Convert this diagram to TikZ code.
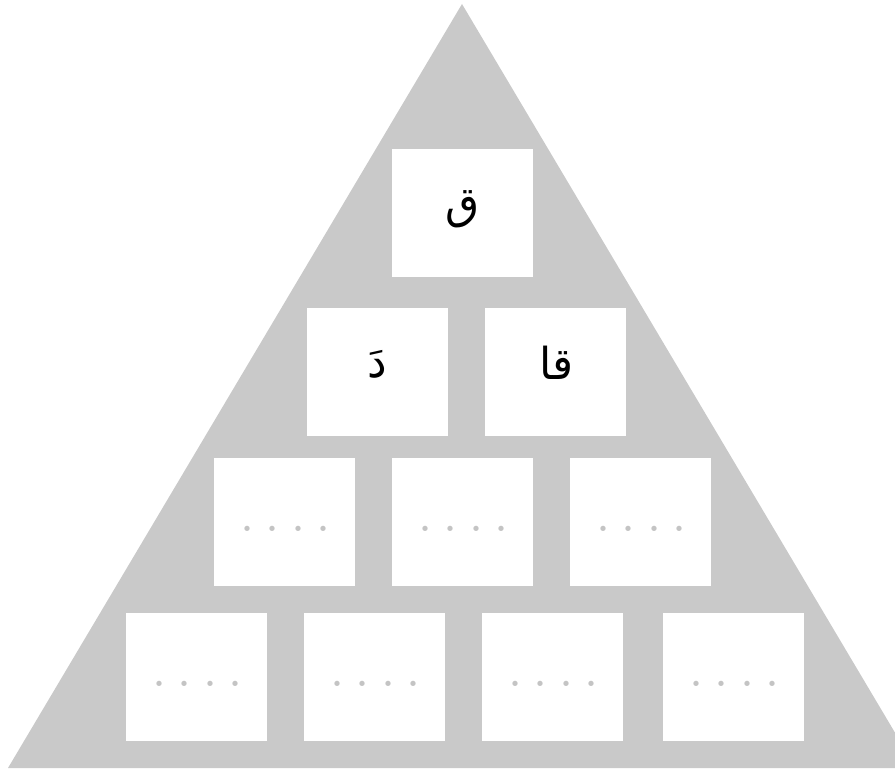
\documentclass[tikz,border=0pt]{standalone}
\usepackage{fontspec}
\TeXXeTstate=1
\newfontfamily\arabicfont[Script=Arabic]{DejaVu Sans}
\definecolor{pyramidgray}{HTML}{C9C9C9}
\definecolor{dotgray}{HTML}{C4C4C4}
\tikzset{
  brick/.style={fill=white, inner sep=0pt, minimum width=141pt, minimum height=128pt},
  letter/.style={font=\arabicfont\fontsize{44}{44}\selectfont},
  dotrow/.style={font=\fontsize{64}{64}\selectfont, text=dotgray, inner sep=0pt}
}
\newcommand{\blankdots}{.\hspace{9.5pt}.\hspace{9.5pt}.\hspace{9.5pt}.}
\begin{document}
\begin{tikzpicture}[x=1pt, y=-1pt]

    % Frame
    \clip (0,0) rectangle (895,770);

    % Pyramid
    \fill[pyramidgray] (462,4) -- (8,768) -- (916,768) -- cycle;

    % Top
    \node[brick] (top) at (462.5,213) {};
    \node[letter] (topletter) at (462.5,209) {\beginR ق\endR};

    % Second row
    \node[brick] (secl) at (377.5,372) {};
    \node[brick] (secr) at (555.5,372) {};
    \node[letter] (seclletter) at (377.5,364) {\beginR دَ\endR};
    \node[letter] (secrletter) at (556.5,363) {\beginR قا\endR};

    % Third row
    \node[brick] (thrl) at (284.5,522) {};
    \node[brick] (thrm) at (462.5,522) {};
    \node[brick] (thrr) at (640.5,522) {};
    \node[dotrow] (thrldots) at (285.5,529) {\blankdots};
    \node[dotrow] (thrmdots) at (463.5,529) {\blankdots};
    \node[dotrow] (thrrdots) at (641.5,529) {\blankdots};

    % Bottom row
    \node[brick] (botA) at (196.5,676.5) {};
    \node[brick] (botB) at (374.5,676.5) {};
    \node[brick] (botC) at (552.5,676.5) {};
    \node[brick] (botD) at (733.5,676.5) {};
    \node[dotrow] (botAdots) at (197.5,683.5) {\blankdots};
    \node[dotrow] (botBdots) at (375.5,683.5) {\blankdots};
    \node[dotrow] (botCdots) at (553.5,683.5) {\blankdots};
    \node[dotrow] (botDdots) at (734.5,683.5) {\blankdots};

\end{tikzpicture}
\end{document}
